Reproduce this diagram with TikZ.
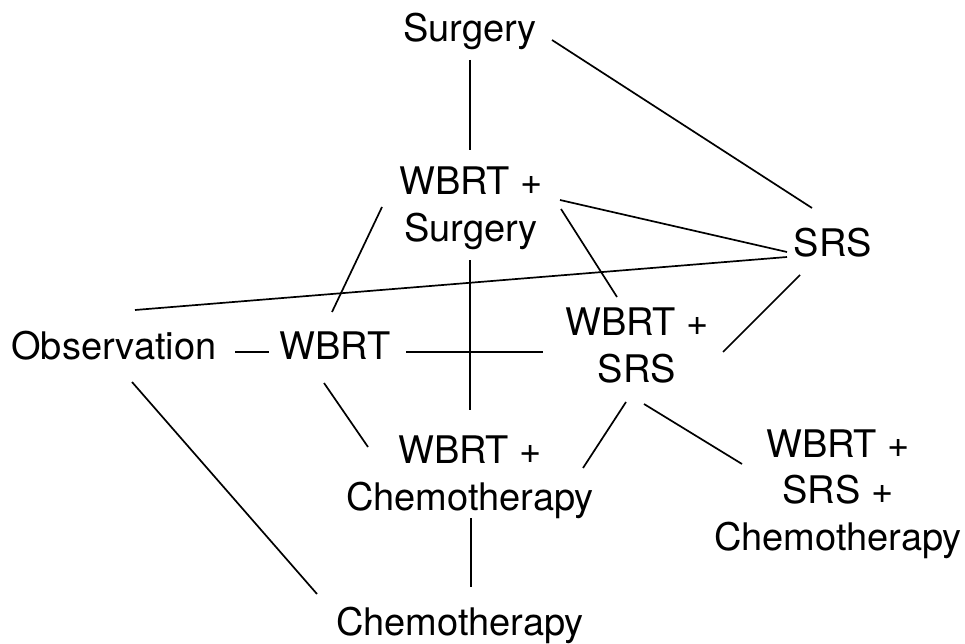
\documentclass[tikz,border=0pt]{standalone}
\usepackage{fontspec}
\setmainfont{TeX Gyre Heros}
\begin{document}
\begin{tikzpicture}[x=1pt,y=-1pt,
  lbl/.style={anchor=base, inner sep=0pt, align=center, text=black,
    font=\fontsize{38}{46.5}\selectfont},
  conn/.style={draw=black, line width=1.7pt}]
\useasboundingbox (0,0) rectangle (965,644);
% base anchor of a multi-line node = baseline of its last line
\node[lbl] (surg)   at (470,42)  {Surgery};
\node[lbl] (wsurg)  at (471,241) {WBRT +\\Surgery};
\node[lbl] (srs)    at (833,256) {SRS};
\node[lbl] (obs)    at (114,359) {Observation};
\node[lbl] (wbrt)   at (335,359) {WBRT};
\node[lbl] (wsrs)   at (637,382) {WBRT +\\SRS};
\node[lbl] (wchemo) at (470,510) {WBRT +\\Chemotherapy};
\node[lbl] (wsc)    at (838,550) {WBRT +\\SRS +\\Chemotherapy};
\node[lbl] (chemo)  at (460,635) {Chemotherapy};

\draw[conn] ([shift={(0,18)}]surg.base) -- ([shift={(-1,-91)}]wsurg.base);
\draw[conn] ([shift={(82,-2)}]surg.base) -- ([shift={(-21,-48)}]srs.base);
\draw[conn] ([shift={(-89,-34)}]wsurg.base) -- ([shift={(-3,-47)}]wbrt.base);
\draw[conn] ([shift={(89,-41)}]wsurg.base) -- ([shift={(-46,-4)}]srs.base);
\draw[conn] ([shift={(90,-32)}]wsurg.base) -- ([shift={(-20,-85)}]wsrs.base);
\draw[conn] ([shift={(-46,1)}]srs.base) -- ([shift={(21,-49)}]obs.base);
\draw[conn] ([shift={(-1,19)}]wsurg.base) -- ([shift={(0,-100)}]wchemo.base);
\draw[conn] ([shift={(-33,19)}]srs.base) -- ([shift={(86,-30)}]wsrs.base);
\draw[conn] ([shift={(121,-7)}]obs.base) -- ([shift={(-66,-7)}]wbrt.base);
\draw[conn] ([shift={(71,-7)}]wbrt.base) -- ([shift={(-94,-30)}]wsrs.base);
\draw[conn] ([shift={(-11,24)}]wbrt.base) -- ([shift={(-102,-63)}]wchemo.base);
\draw[conn] ([shift={(18,23)}]obs.base) -- ([shift={(-143,-41)}]chemo.base);
\draw[conn] ([shift={(-11,20)}]wsrs.base) -- ([shift={(113,-42)}]wchemo.base);
\draw[conn] ([shift={(7,22)}]wsrs.base) -- ([shift={(-96,-86)}]wsc.base);
\draw[conn] ([shift={(1,8)}]wchemo.base) -- ([shift={(11,-48)}]chemo.base);
\end{tikzpicture}
\end{document}
